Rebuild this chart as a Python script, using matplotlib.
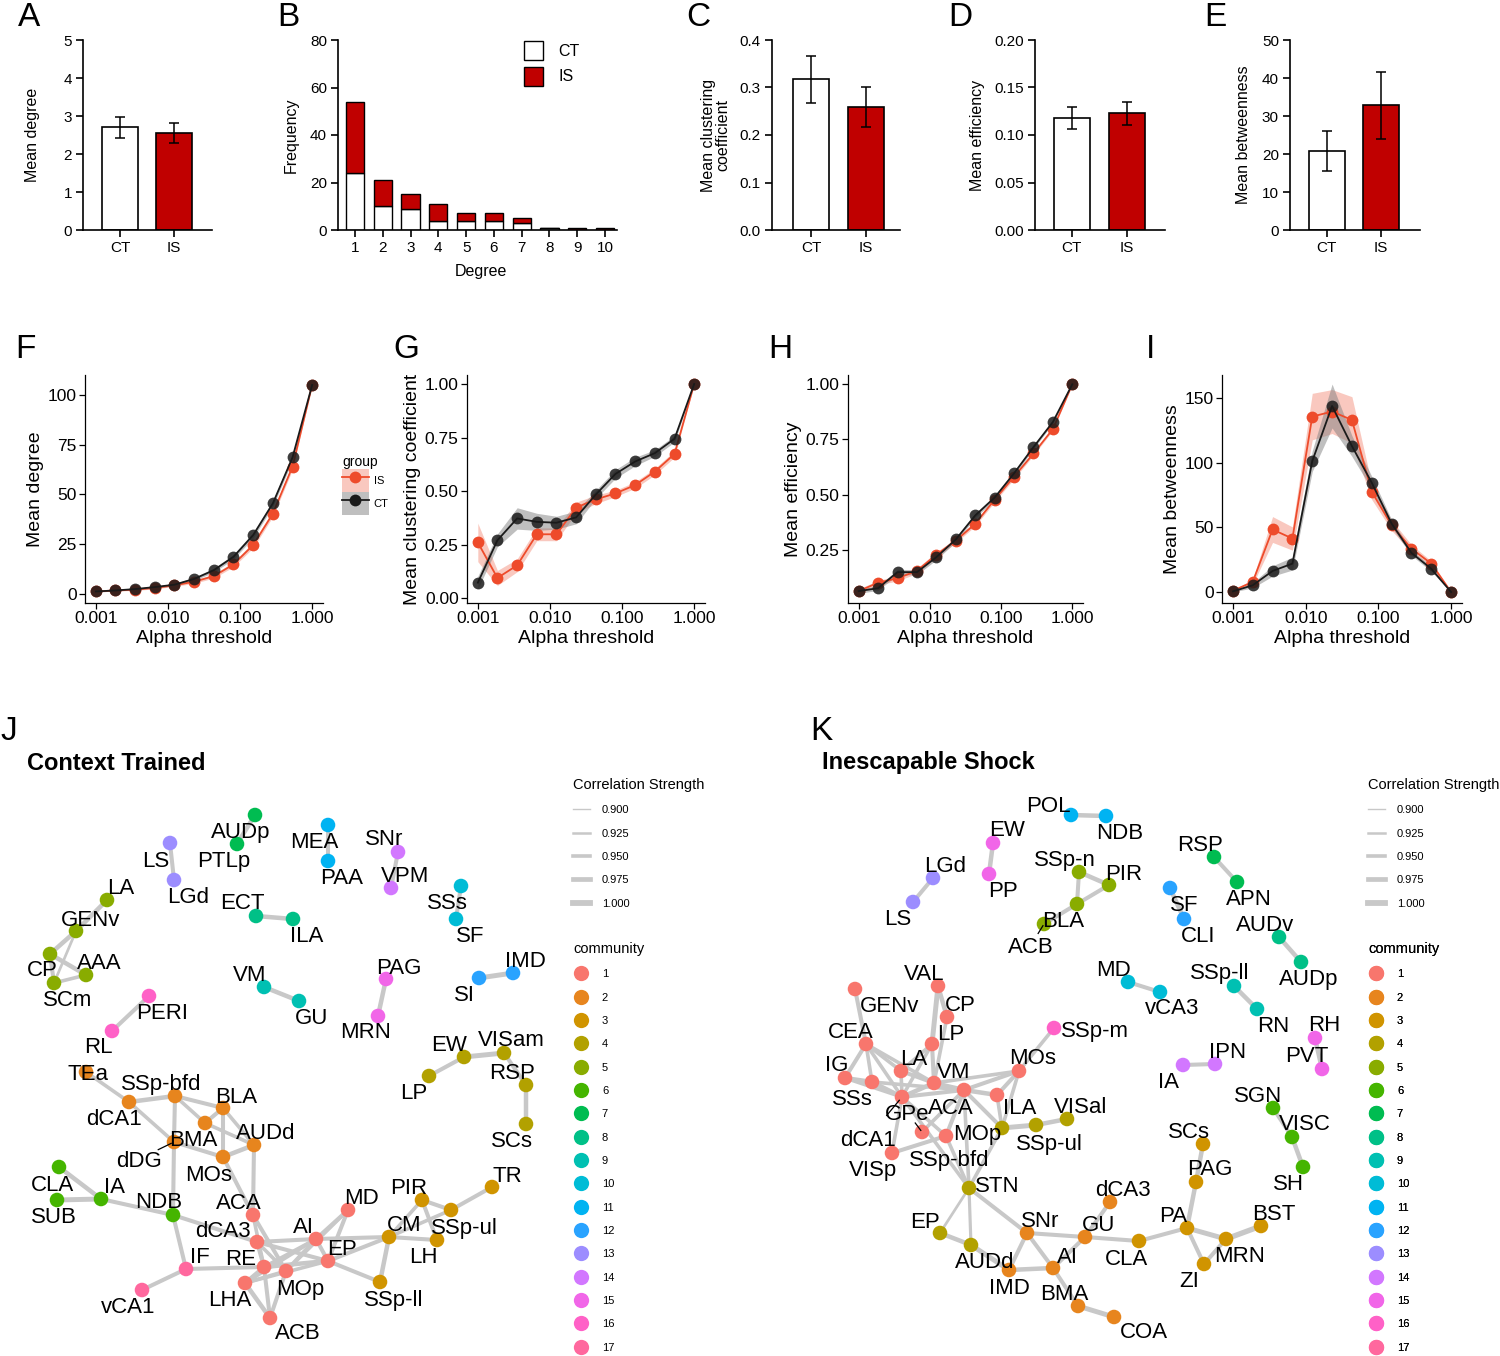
#Graph theory summary figure: group bars (A-E), alpha threshold sweeps (F-I)
#and the two community networks (J, K)

import numpy as np
import matplotlib
matplotlib.use("Agg")
import matplotlib.pyplot as plt
from matplotlib.collections import LineCollection
from matplotlib.lines import Line2D
from matplotlib.patches import Patch
from matplotlib.ticker import FormatStrFormatter, NullLocator

plt.rcParams['font.family'] = ['Liberation Sans', 'DejaVu Sans']

W, H = 1500, 1356

# ---------------- data ----------------
groups = ['CT', 'IS']

# A, C, D, E : mean +/- sem per group
mean_degree = [2.70, 2.55]
mean_degree_err = [0.27, 0.27]
mean_clust = [0.317, 0.259]
mean_clust_err = [0.049, 0.043]
mean_eff = [0.118, 0.123]
mean_eff_err = [0.012, 0.012]
mean_betw = [20.8, 32.8]
mean_betw_err = [5.2, 8.8]

# B : degree distribution (stacked)
degree = [1, 2, 3, 4, 5, 6, 7, 8, 9, 10]
freq_ct = [24, 10, 9, 4, 4, 4, 3, 1, 0, 0]
freq_is = [30, 11, 6, 7, 3, 3, 2, 0, 1, 1]

# F-I : alpha threshold sweep
alpha_thr = [0.001, 0.00187, 0.00351, 0.00658, 0.01233, 0.0231,
             0.0433, 0.0811, 0.152, 0.2848, 0.5337, 1.0]

deg_ct = [1.3, 1.8, 2.5, 3.5, 4.7, 7.6, 12.0, 18.7, 29.6, 45.5, 68.6, 105.0]
deg_ct_se = [0.3, 0.3, 0.4, 0.5, 0.6, 0.8, 1.0, 1.2, 1.4, 1.5, 1.5, 0.0]
deg_is = [1.3, 1.8, 2.2, 3.1, 4.4, 6.2, 9.0, 14.9, 24.6, 40.4, 64.0, 105.0]
deg_is_se = [0.3, 0.3, 0.4, 0.5, 0.6, 0.8, 1.0, 1.2, 1.4, 1.5, 1.5, 0.0]

clu_ct = [0.072, 0.27, 0.372, 0.356, 0.352, 0.377, 0.484, 0.58, 0.638, 0.677, 0.744, 1.0]
clu_ct_se = [0.03, 0.03, 0.05, 0.04, 0.03, 0.03, 0.02, 0.02, 0.02, 0.015, 0.015, 0.0]
clu_is = [0.26, 0.094, 0.153, 0.298, 0.298, 0.423, 0.461, 0.489, 0.528, 0.591, 0.673, 1.0]
clu_is_se = [0.09, 0.035, 0.03, 0.03, 0.03, 0.025, 0.02, 0.015, 0.015, 0.015, 0.015, 0.0]

eff_ct = [0.062, 0.075, 0.148, 0.148, 0.216, 0.296, 0.405, 0.486, 0.596, 0.715, 0.829, 1.0]
eff_ct_se = [0.01, 0.01, 0.012, 0.012, 0.012, 0.01, 0.01, 0.01, 0.01, 0.008, 0.006, 0.0]
eff_is = [0.062, 0.10, 0.12, 0.154, 0.227, 0.291, 0.367, 0.477, 0.581, 0.686, 0.797, 1.0]
eff_is_se = [0.01, 0.01, 0.012, 0.012, 0.012, 0.01, 0.01, 0.01, 0.01, 0.008, 0.006, 0.0]

btw_ct = [0.5, 5.2, 16.3, 22.0, 101.3, 144.0, 113.0, 84.6, 53.0, 30.3, 18.0, 0.0]
btw_ct_se = [0.5, 2, 4, 5, 8, 17, 8, 5, 3, 2, 2, 0]
btw_is = [1.0, 7.8, 48.4, 41.4, 135.8, 139.7, 133.2, 77.6, 51.7, 33.6, 22.0, 0.0]
btw_is_se = [0.5, 2, 10, 9, 18, 17, 18, 6, 4, 3, 2, 0]

# J / K : network layouts (name, x, y, label x, label y, community)
ct_nodes = [
    ("AUDp", 255, 815, 241, 830, 7), ("PTLp", 237, 844, 224, 859, 7),
    ("LS", 170, 843, 156, 859, 13), ("LGd", 174, 880, 188, 895, 13),
    ("MEA", 328, 825, 314, 840, 11), ("PAA", 328, 861, 342, 876, 11),
    ("SNr", 398, 852, 384, 837, 14), ("VPM", 391, 888, 405, 874, 14),
    ("SSs", 461, 886, 447, 901, 10), ("SF", 456, 919, 470, 934, 10),
    ("ECT", 256, 916, 242, 901, 8), ("ILA", 293, 919, 307, 934, 8),
    ("LA", 107, 900, 121, 886, 5), ("GENv", 76, 931, 91, 918, 5),
    ("CP", 50, 954, 42, 968, 5), ("AAA", 86, 975, 99, 961, 5),
    ("SCm", 54, 983, 68, 998, 5),
    ("VM", 264, 987, 250, 973, 9), ("GU", 299, 1001, 312, 1016, 9),
    ("PAG", 386, 979, 399, 966, 15), ("MRN", 378, 1016, 366, 1030, 15),
    ("SI", 479, 978, 464, 993, 12), ("IMD", 513, 973, 525, 959, 12),
    ("PERI", 149, 996, 162, 1011, 16), ("RL", 112, 1031, 98, 1045, 16),
    ("TEa", 86, 1072, 88, 1072, 2), ("dCA1", 129, 1102, 114, 1117, 2),
    ("SSp-bfd", 175, 1096, 161, 1082, 2), ("BLA", 223, 1108, 236, 1095, 2),
    ("BMA", 205, 1123, 193, 1138, 2), ("dDG", 174, 1142, 139, 1159, 2),
    ("AUDd", 254, 1145, 266, 1131, 2), ("MOs", 223, 1157, 209, 1173, 2),
    ("CLA", 59, 1167, 53, 1183, 6), ("SUB", 57, 1200, 54, 1215, 6),
    ("IA", 101, 1199, 115, 1185, 6), ("NDB", 173, 1215, 159, 1200, 6),
    ("ACA", 253, 1215, 239, 1201, 1), ("dCA3", 257, 1242, 223, 1229, 1),
    ("AI", 316, 1239, 303, 1225, 1), ("MD", 348, 1210, 361, 1196, 1),
    ("EP", 328, 1261, 342, 1247, 1), ("RE", 264, 1267, 241, 1257, 1),
    ("MOp", 286, 1271, 300, 1287, 1), ("LHA", 245, 1283, 230, 1298, 1),
    ("ACB", 270, 1318, 298, 1331, 1),
    ("IF", 186, 1269, 200, 1255, 17), ("vCA1", 142, 1290, 128, 1305, 17),
    ("PIR", 422, 1200, 409, 1186, 3), ("SSp-ul", 451, 1210, 464, 1226, 3),
    ("TR", 492, 1187, 507, 1174, 3), ("CM", 389, 1237, 404, 1223, 3),
    ("LH", 437, 1240, 423, 1255, 3), ("SSp-ll", 380, 1282, 394, 1298, 3),
    ("EW", 464, 1057, 449, 1043, 4), ("VISam", 504, 1053, 511, 1038, 4),
    ("LP", 429, 1076, 414, 1091, 4), ("RSP", 526, 1085, 512, 1071, 4),
    ("SCs", 526, 1124, 512, 1139, 4),
]
ct_edges = [
    ("AUDp", "PTLp", 0.97), ("LS", "LGd", 0.96), ("MEA", "PAA", 0.96),
    ("SNr", "VPM", 0.96), ("SSs", "SF", 0.96), ("ECT", "ILA", 0.97),
    ("LA", "GENv", 0.97), ("GENv", "CP", 0.97), ("GENv", "SCm", 0.93),
    ("CP", "AAA", 0.97), ("CP", "SCm", 0.96), ("SCm", "AAA", 0.95),
    ("VM", "GU", 0.97), ("PAG", "MRN", 0.97), ("SI", "IMD", 0.98),
    ("PERI", "RL", 0.96),
    ("TEa", "dCA1", 0.95), ("dCA1", "SSp-bfd", 0.97), ("dCA1", "dDG", 0.95),
    ("SSp-bfd", "BLA", 0.96), ("SSp-bfd", "BMA", 0.95), ("SSp-bfd", "dDG", 0.96),
    ("BMA", "BLA", 0.96), ("BMA", "AUDd", 0.95), ("BLA", "AUDd", 0.95),
    ("BLA", "MOs", 0.96), ("MOs", "AUDd", 0.97), ("dDG", "MOs", 0.96),
    ("dDG", "NDB", 0.96), ("MOs", "ACA", 0.96), ("AUDd", "ACA", 0.96),
    ("CLA", "IA", 0.97), ("SUB", "IA", 0.98), ("IA", "NDB", 0.96),
    ("NDB", "dCA3", 0.96), ("NDB", "IF", 0.96), ("IF", "vCA1", 0.96),
    ("IF", "RE", 0.96),
    ("ACA", "MOp", 0.96), ("ACA", "RE", 0.95), ("dCA3", "AI", 0.96),
    ("dCA3", "EP", 0.96), ("dCA3", "MOp", 0.95), ("dCA3", "RE", 0.96),
    ("RE", "AI", 0.95), ("RE", "EP", 0.97), ("MOp", "AI", 0.96),
    ("MOp", "MD", 0.95), ("AI", "MD", 0.96), ("EP", "MD", 0.96),
    ("AI", "EP", 0.96), ("LHA", "AI", 0.95), ("LHA", "ACB", 0.97),
    ("RE", "ACB", 0.96), ("MOp", "ACB", 0.96), ("LHA", "RE", 0.96),
    ("LHA", "MOp", 0.95), ("LHA", "EP", 0.95), ("AI", "CM", 0.96),
    ("EP", "CM", 0.96), ("EP", "SSp-ll", 0.96),
    ("PIR", "SSp-ul", 0.96), ("SSp-ul", "TR", 0.96), ("PIR", "CM", 0.95),
    ("PIR", "LH", 0.96), ("CM", "SSp-ul", 0.95), ("CM", "LH", 0.96),
    ("CM", "SSp-ll", 0.97),
    ("LP", "EW", 0.96), ("EW", "VISam", 0.98), ("VISam", "RSP", 0.96),
    ("RSP", "SCs", 0.97),
]
ct_leaders = ["dDG"]

is_nodes = [
    ("POL", 1071, 815, 1048, 804, 11), ("NDB", 1106, 816, 1120, 831, 11),
    ("EW", 993, 843, 1007, 828, 15), ("PP", 989, 874, 1003, 889, 15),
    ("LGd", 933, 878, 945, 864, 13), ("LS", 913, 902, 898, 917, 13),
    ("SSp-n", 1079, 872, 1065, 858, 5), ("PIR", 1109, 885, 1124, 872, 5),
    ("BLA", 1077, 904, 1063, 919, 5), ("ACB", 1044, 924, 1031, 945, 5),
    ("SF", 1170, 888, 1184, 903, 12), ("CLI", 1184, 919, 1198, 934, 12),
    ("RSP", 1214, 857, 1200, 843, 7), ("APN", 1237, 882, 1249, 897, 7),
    ("AUDv", 1279, 937, 1265, 923, 8), ("AUDp", 1301, 962, 1309, 977, 8),
    ("MD", 1128, 982, 1114, 968, 10), ("vCA3", 1160, 992, 1172, 1006, 10),
    ("SSp-ll", 1234, 986, 1220, 971, 9), ("RN", 1257, 1009, 1273, 1024, 9),
    ("RH", 1315, 1038, 1324, 1023, 15), ("PVT", 1322, 1069, 1307, 1054, 15),
    ("IA", 1183, 1065, 1168, 1080, 14), ("IPN", 1215, 1064, 1228, 1050, 14),
    ("VAL", 938, 986, 924, 972, 1), ("GENv", 855, 989, 890, 1004, 1),
    ("CP", 947, 1017, 960, 1003, 1), ("CEA", 866, 1044, 851, 1030, 1),
    ("LP", 932, 1044, 951, 1032, 1), ("LA", 901, 1071, 914, 1057, 1),
    ("VM", 934, 1083, 954, 1070, 1), ("IG", 845, 1078, 837, 1063, 1),
    ("SSs", 872, 1082, 852, 1097, 1), ("dCA1", 902, 1097, 868, 1138, 1),
    ("GPe", 922, 1132, 907, 1112, 1), ("ACA", 964, 1090, 951, 1106, 1),
    ("ILA", 997, 1095, 1020, 1106, 1), ("MOs", 1019, 1071, 1033, 1056, 1),
    ("SSp-bfd", 946, 1136, 949, 1158, 1), ("VISp", 892, 1153, 873, 1168, 1),
    ("SSp-m", 1054, 1028, 1095, 1029, 16),
    ("MOp", 1002, 1128, 977, 1132, 4), ("SSp-ul", 1036, 1125, 1049, 1142, 4),
    ("VISal", 1067, 1119, 1081, 1105, 4), ("STN", 969, 1188, 997, 1184, 4),
    ("EP", 940, 1233, 925, 1220, 4), ("AUDd", 971, 1245, 985, 1260, 4),
    ("SNr", 1027, 1233, 1040, 1219, 2), ("IMD", 1009, 1270, 1009, 1286, 2),
    ("AI", 1053, 1268, 1067, 1255, 2), ("BMA", 1078, 1306, 1064, 1292, 2),
    ("COA", 1114, 1317, 1144, 1330, 2), ("GU", 1085, 1237, 1099, 1223, 2),
    ("dCA3", 1110, 1202, 1123, 1188, 2),
    ("CLA", 1139, 1241, 1126, 1257, 3), ("PA", 1187, 1228, 1173, 1214, 3),
    ("PAG", 1196, 1182, 1210, 1167, 3), ("SCs", 1203, 1144, 1189, 1130, 3),
    ("MRN", 1226, 1239, 1240, 1254, 3), ("BST", 1261, 1226, 1274, 1212, 3),
    ("ZI", 1204, 1264, 1189, 1279, 3),
    ("SGN", 1273, 1108, 1258, 1094, 6), ("VISC", 1292, 1137, 1305, 1122, 6),
    ("SH", 1303, 1167, 1288, 1182, 6),
]
is_edges = [
    ("POL", "NDB", 0.97), ("EW", "PP", 0.97), ("LGd", "LS", 0.96),
    ("SSp-n", "PIR", 0.97), ("SSp-n", "BLA", 0.96), ("PIR", "BLA", 0.96),
    ("BLA", "ACB", 0.96), ("SF", "CLI", 0.97), ("RSP", "APN", 0.96),
    ("AUDv", "AUDp", 0.97), ("MD", "vCA3", 0.96), ("SSp-ll", "RN", 0.97),
    ("RH", "PVT", 0.97), ("IA", "IPN", 0.96),
    ("GENv", "CEA", 0.96), ("VAL", "CP", 0.97), ("VAL", "LP", 0.98),
    ("CP", "VM", 0.95), ("CEA", "IG", 0.96), ("CEA", "SSs", 0.95),
    ("CEA", "LA", 0.95), ("CEA", "dCA1", 0.95), ("CEA", "VM", 0.95),
    ("IG", "SSs", 0.97), ("IG", "dCA1", 0.95), ("SSs", "dCA1", 0.97),
    ("SSs", "ACA", 0.95), ("LA", "LP", 0.95), ("LA", "dCA1", 0.95),
    ("LA", "VM", 0.96), ("LP", "dCA1", 0.95), ("LP", "VM", 0.96),
    ("dCA1", "VM", 0.97), ("dCA1", "ACA", 0.96), ("dCA1", "SSp-bfd", 0.95),
    ("dCA1", "VISp", 0.95), ("VM", "ACA", 0.97), ("VM", "MOs", 0.95),
    ("ACA", "MOs", 0.96), ("ACA", "ILA", 0.97), ("ACA", "SSp-bfd", 0.96),
    ("ACA", "GPe", 0.95), ("ACA", "STN", 0.95), ("ILA", "MOs", 0.96),
    ("ILA", "MOp", 0.95), ("MOs", "MOp", 0.95), ("ACA", "MOp", 0.96),
    ("VISp", "SSp-bfd", 0.96), ("SSp-bfd", "STN", 0.95), ("MOp", "STN", 0.95),
    ("MOp", "SSp-ul", 0.98), ("SSp-ul", "VISal", 0.97), ("MOs", "SSp-m", 0.95),
    ("dCA1", "STN", 0.95),
    ("STN", "EP", 0.93), ("STN", "AUDd", 0.94), ("EP", "AUDd", 0.97),
    ("STN", "SNr", 0.96), ("AUDd", "IMD", 0.98), ("SNr", "IMD", 0.96),
    ("SNr", "AI", 0.96), ("SNr", "GU", 0.96), ("IMD", "AI", 0.97),
    ("AI", "GU", 0.96), ("AI", "BMA", 0.96), ("BMA", "COA", 0.98),
    ("GU", "dCA3", 0.96), ("GU", "CLA", 0.96), ("CLA", "PA", 0.96),
    ("PA", "PAG", 0.97), ("PAG", "SCs", 0.97), ("PA", "MRN", 0.98),
    ("PA", "ZI", 0.96), ("ZI", "MRN", 0.96), ("MRN", "BST", 0.99),
    ("SGN", "VISC", 0.96), ("VISC", "SH", 0.97),
]
is_leaders = ["dCA1", "GPe", "ACB"]

width_levels = [0.900, 0.925, 0.950, 0.975, 1.000]
communities = list(range(1, 18))

# ---------------- styles ----------------
IS_BAR = '#C00000'
IS_COL = '#EE4B2B'
CT_COL = '#1A1A1A'
EDGE_COL = '#C8C8C8'


def box(l, t, r, b):
    return [l / W, 1 - b / H, (r - l) / W, (b - t) / H]


def hcl_color(h, c=100, l=65):
    # R's hcl() -> sRGB, same as ggplot's default hue palette
    Xn, Yn, Zn = 95.047, 100.0, 108.883
    un = 4 * Xn / (Xn + 15 * Yn + 3 * Zn)
    vn = 9 * Yn / (Xn + 15 * Yn + 3 * Zn)
    u, v = c * np.cos(np.deg2rad(h)), c * np.sin(np.deg2rad(h))
    Y = Yn * ((l + 16) / 116) ** 3
    up = u / (13 * l) + un
    vp = v / (13 * l) + vn
    X = Y * 9 * up / (4 * vp)
    Z = Y * (12 - 3 * up - 20 * vp) / (4 * vp)
    X, Y, Z = X / 100, Y / 100, Z / 100
    rgb = [3.240479 * X - 1.537150 * Y - 0.498535 * Z,
           -0.969256 * X + 1.875992 * Y + 0.041556 * Z,
           0.055648 * X - 0.204043 * Y + 1.057311 * Z]
    out = []
    for ch in rgb:
        ch = 12.92 * ch if ch <= 0.0031308 else 1.055 * ch ** (1 / 2.4) - 0.055
        out.append(min(max(ch, 0.0), 1.0))
    return tuple(out)


palette = [hcl_color(15 + i * 360 / 17) for i in range(17)]


def edge_lw(r):
    return 1.0 + (r - 0.9) / 0.1 * 3.2


fig = plt.figure(figsize=(W / 100, H / 100), dpi=100)


def prism_axes(ax):
    for s in ['top', 'right']:
        ax.spines[s].set_visible(False)
    for s in ['left', 'bottom']:
        ax.spines[s].set_linewidth(1.2)
    ax.tick_params(direction='out', length=5, width=1.2, labelsize=11, pad=3)


def bar_panel(rect, xlim, vals, errs, ylim, yticks, fmt, ylabel, ylab_x):
    ax = fig.add_axes(box(*rect))
    xs = np.arange(len(groups))
    ax.bar(xs, vals, width=0.66, color=['white', IS_BAR], edgecolor='black',
           linewidth=1.2, zorder=2)
    ax.errorbar(xs, vals, yerr=errs, fmt='none', ecolor='black',
                elinewidth=1.1, capsize=3.8, capthick=1.1, zorder=3)
    ax.set_xlim(*xlim)
    ax.set_ylim(*ylim)
    ax.set_xticks(xs)
    ax.set_xticklabels(groups)
    ax.set_yticks(yticks)
    ax.yaxis.set_major_formatter(FormatStrFormatter(fmt))
    prism_axes(ax)
    ax.set_ylabel(ylabel, fontsize=11.5, va='center', ha='center', linespacing=1.0)
    ax.yaxis.set_label_coords(ylab_x, 0.5)
    return ax


# ---------------- row 1 ----------------
bar_panel((83, 40, 212, 230), (-0.685, 1.70), mean_degree, mean_degree_err,
          (0, 5), range(0, 6), '%d', 'Mean degree', -0.39)

axB = fig.add_axes(box(338, 40, 617, 230))
axB.bar(degree, freq_ct, width=0.65, color='white', edgecolor='black', linewidth=1.0, zorder=2)
axB.bar(degree, freq_is, bottom=freq_ct, width=0.65, color=IS_BAR, edgecolor='black',
        linewidth=1.0, zorder=2)
axB.set_xlim(0.39, 10.43)
axB.set_ylim(0, 80)
axB.set_xticks(degree)
axB.set_yticks(range(0, 81, 20))
prism_axes(axB)
axB.set_ylabel('Frequency', fontsize=11.5, va='center')
axB.yaxis.set_label_coords(-0.168, 0.5)
axB.set_xlabel('Degree', fontsize=11.5, va='center')
axB.xaxis.set_label_coords(0.513, -0.221)
axB.legend([Patch(facecolor='white', edgecolor='black', linewidth=1.0),
            Patch(facecolor=IS_BAR, edgecolor='black', linewidth=1.0)], groups,
           loc='upper left', bbox_to_anchor=(524 / W, 1 - 41 / H),
           bbox_transform=fig.transFigure, frameon=False, fontsize=11.5,
           handlelength=1.2, handleheight=1.45, handletextpad=0.95,
           labelspacing=0.42, borderpad=0, borderaxespad=0)

bar_panel((772, 40, 900, 230), (-0.71, 1.62), mean_clust, mean_clust_err,
          (0, 0.4), np.arange(0, 0.41, 0.1), '%.1f', 'Mean clustering\ncoefficient', -0.44)
bar_panel((1035, 40, 1165, 230), (-0.67, 1.69), mean_eff, mean_eff_err,
          (0, 0.2), np.arange(0, 0.201, 0.05), '%.2f', 'Mean efficiency', -0.44)
bar_panel((1290, 40, 1420, 230), (-0.68, 1.72), mean_betw, mean_betw_err,
          (0, 50), range(0, 51, 10), '%d', 'Mean betweenness', -0.36)


# ---------------- row 2 ----------------
def alpha_panel(rect, ct, ct_se, is_, is_se, ylim, yticks, ytl, ylabel, ylab_x):
    ax = fig.add_axes(box(*rect))
    series = [(is_, is_se, IS_COL, IS_COL, 0.3, 1.0),
              (ct, ct_se, CT_COL, 'grey', 0.5, 0.85)]
    for vals, se, col, fill, fa, pa in series:
        v, s = np.array(vals), np.array(se)
        ax.fill_between(alpha_thr, v - s, v + s, color=fill, alpha=fa, lw=0)
        ax.plot(alpha_thr, v, color=col, lw=1.3)
        ax.plot(alpha_thr, v, 'o', color=col, ms=8.5, alpha=pa, mew=0)
    ax.set_xscale('log')
    ax.set_xlim(10 ** -3.15, 10 ** 0.15)
    ax.set_xticks([0.001, 0.01, 0.1, 1.0])
    ax.set_xticklabels(['0.001', '0.010', '0.100', '1.000'])
    ax.xaxis.set_minor_locator(NullLocator())
    ax.set_ylim(*ylim)
    ax.set_yticks(yticks)
    ax.set_yticklabels(ytl)
    for s in ['top', 'right']:
        ax.spines[s].set_visible(False)
    for s in ['left', 'bottom']:
        ax.spines[s].set_linewidth(0.9)
    ax.tick_params(direction='out', length=4, width=0.9, labelsize=12.5, pad=2)
    ax.set_xlabel('Alpha threshold', fontsize=14, va='center')
    ax.xaxis.set_label_coords(0.5, -0.154)
    ax.set_ylabel(ylabel, fontsize=14, va='center')
    ax.yaxis.set_label_coords(ylab_x, 0.5)
    return ax


alpha_panel((85, 375, 323, 603), deg_ct, deg_ct_se, deg_is, deg_is_se,
            (-4.5, 110), [0, 25, 50, 75, 100], ['0', '25', '50', '75', '100'],
            'Mean degree', -0.21)
alpha_panel((467, 375, 705, 603), clu_ct, clu_ct_se, clu_is, clu_is_se,
            (-0.023, 1.042), [0, 0.25, 0.5, 0.75, 1.0],
            ['0.00', '0.25', '0.50', '0.75', '1.00'], 'Mean clustering coefficient', -0.227)
alpha_panel((848, 375, 1083, 603), eff_ct, eff_ct_se, eff_is, eff_is_se,
            (0.008, 1.042), [0.25, 0.5, 0.75, 1.0],
            ['0.25', '0.50', '0.75', '1.00'], 'Mean efficiency', -0.234)
alpha_panel((1222, 375, 1462, 603), btw_ct, btw_ct_se, btw_is, btw_is_se,
            (-8.5, 168), [0, 50, 100, 150], ['0', '50', '100', '150'],
            'Mean betweenness', -0.208)

grp_handles = [
    (Patch(facecolor=IS_COL, alpha=0.3, edgecolor='none'),
     Line2D([], [], color=IS_COL, lw=1.3, marker='o', ms=8.5, mew=0)),
    (Patch(facecolor='grey', alpha=0.5, edgecolor='none'),
     Line2D([], [], color=CT_COL, lw=1.3, marker='o', ms=8.5, mew=0)),
]
fig.legend(grp_handles, ['IS', 'CT'], title='group', loc='upper left',
           bbox_to_anchor=(342 / W, 1 - 455 / H), frameon=False, fontsize=8,
           title_fontsize=10, handlelength=2.4, handleheight=2.8,
           handletextpad=0.45, labelspacing=0.02, borderpad=0,
           borderaxespad=0, alignment='left')

# ---------------- row 3 : networks ----------------
axN = fig.add_axes(box(0, 690, W, H))
axN.set_xlim(0, W)
axN.set_ylim(H, 690)
axN.set_axis_off()


def draw_network(ax, nodes, edges, leaders):
    pos = {n[0]: (n[1], n[2]) for n in nodes}
    segs = [[pos[a], pos[b]] for a, b, r in edges]
    lws = [edge_lw(r) for a, b, r in edges]
    ax.add_collection(LineCollection(segs, linewidths=lws, colors=EDGE_COL,
                                     capstyle='butt', zorder=1))
    ax.scatter([n[1] for n in nodes], [n[2] for n in nodes], s=110,
               c=[palette[n[5] - 1] for n in nodes], linewidths=0, zorder=2)
    for name, x, y, lx, ly, com in nodes:
        ax.text(lx, ly, name, ha='center', va='center_baseline', fontsize=16, zorder=3)
        if name in leaders:
            ax.plot([lx + 0.55 * (x - lx), lx + 0.92 * (x - lx)],
                    [ly + 0.55 * (y - ly), ly + 0.92 * (y - ly)],
                    color='black', lw=0.9, zorder=3)


def net_legends(ax, x0):
    h1 = [Line2D([], [], color=EDGE_COL, lw=edge_lw(r)) for r in width_levels]
    l1 = ['%.3f' % r for r in width_levels]
    leg1 = ax.legend(h1, l1, title='Correlation Strength', loc='upper left',
                     bbox_to_anchor=(x0, 778), bbox_transform=ax.transData,
                     frameon=False, fontsize=8, title_fontsize=10.5,
                     handlelength=1.5, handletextpad=1.1, labelspacing=1.2,
                     borderpad=0, borderaxespad=0, alignment='left')
    ax.add_artist(leg1)
    h2 = [Line2D([], [], ls='none', marker='o', ms=11, mfc=palette[c - 1], mec='none')
          for c in communities]
    leg2 = ax.legend(h2, [str(c) for c in communities], title='community',
                     loc='upper left', bbox_to_anchor=(x0, 942),
                     bbox_transform=ax.transData, frameon=False, fontsize=8,
                     title_fontsize=10.5, handlelength=1.5, handletextpad=1.1,
                     labelspacing=1.2, borderpad=0, borderaxespad=0,
                     alignment='left')
    ax.add_artist(leg2)


draw_network(axN, ct_nodes, ct_edges, ct_leaders)
draw_network(axN, is_nodes, is_edges, is_leaders)
net_legends(axN, 573)
net_legends(axN, 1368)

fig.text(27 / W, 1 - 763 / H, 'Context Trained', fontsize=17, fontweight='bold',
         ha='left', va='center')
fig.text(822 / W, 1 - 763 / H, 'Inescapable Shock', fontsize=17, fontweight='bold',
         ha='left', va='center')

# panel letters
for letter, lx, ly in [('A', 18, 17), ('B', 277, 17), ('C', 686, 17), ('D', 948, 17),
                       ('E', 1204, 17), ('F', 15, 350), ('G', 393, 350),
                       ('H', 768, 350), ('I', 1146, 350), ('J', 0, 731),
                       ('K', 810, 731)]:
    fig.text(lx / W, 1 - ly / H, letter, fontsize=24, ha='left', va='center')

fig.savefig('out.png', dpi=100)
